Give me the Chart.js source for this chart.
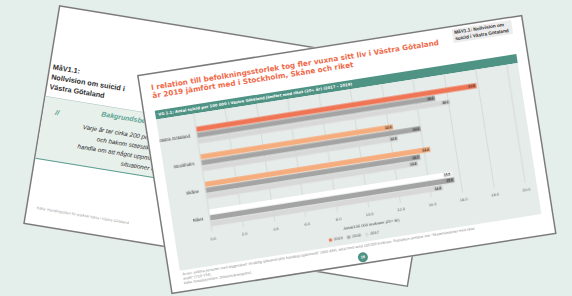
<!DOCTYPE html>
<html><head><meta charset="utf-8">
<script src="https://cdn.jsdelivr.net/npm/chart.js@4"></script>
<style>
html,body{margin:0;padding:0;width:572px;height:296px;overflow:hidden;background:#e4eeea;font-family:"Liberation Sans",Arial,sans-serif;}
.card{position:absolute;box-sizing:border-box;width:780px;height:444px;background:#fff;border:3px solid #7b7b7b;transform-origin:0 0;overflow:hidden;}
#back{left:59px;top:5px;transform:rotate(9.3deg) scale(0.5);}
#front{left:137px;top:75px;transform:rotate(-8.9deg) scale(0.5);}
.abs{position:absolute;white-space:nowrap;}
#title{left:21px;top:18px;font-family:"DejaVu Sans",sans-serif;font-weight:bold;font-size:14.5px;line-height:17px;color:#ef6a4a;}
#hdr{left:633px;top:4px;width:112px;height:26px;background:#ececec;font-weight:bold;font-size:9.5px;line-height:12.5px;color:#333;padding:1px 4px;}
#strip{left:21px;top:73px;width:726px;height:18px;background:#4f9385;color:#fff;font-family:"DejaVu Sans",sans-serif;font-weight:bold;font-size:7.6px;line-height:18px;padding-left:6px;}
#panel{left:21px;top:91px;width:732px;height:306px;background:#e6ecea;}
#foot{left:25px;top:400px;font-size:7.2px;line-height:9px;color:#8a8a8a;}
#pg{left:377px;top:417px;width:20px;height:20px;border-radius:50%;background:#4f9385;color:#fff;font-size:7.5px;font-weight:bold;line-height:20px;text-align:center;}
#bh{left:5px;top:111px;font-weight:bold;font-size:14.5px;line-height:20px;color:#2d2d2d;}
#bbox{left:0;top:181px;width:774px;height:124px;background:#e8f0ec;border-top:1.5px solid #a9c4bd;border-bottom:2px solid #5a9d8f;}
#q{left:24px;top:20px;font-style:italic;font-weight:bold;font-size:14px;color:#5aa393;}
#bg{left:116px;top:8px;font-weight:bold;font-style:italic;font-size:14px;color:#5aa393;}
#body{left:0;top:38px;width:600px;text-align:center;font-style:italic;font-size:12.5px;line-height:20px;color:#2b2b2b;}
#bfoot{left:19px;top:400px;font-size:7.5px;color:#9a9a9a;}
</style></head>
<body>
<div class="card" id="back">
  <div class="abs" id="bh">MåV1.1:<br>Nollvision om suicid i<br>Västra Götaland</div>
  <div class="abs" id="bbox">
    <div class="abs" id="q">//</div>
    <div class="abs" id="bg">Bakgrundsbeskrivning</div>
    <div class="abs" id="body">Varje år tar cirka 200 personer sitt liv i Västra Götaland. Det är fler än i trafiken<br>och bakom statistiken döljer sig ett stort lidande. Ofta kan ett suicid<br>handla om att något uppmärksammats för sent eller att personer hamnat i svåra<br>situationer och att utsatta inte fått rätt stöd i tid.</div>
  </div>
  <div class="abs" id="bfoot">Källa: Handlingsplan för psykisk hälsa i Västra Götaland</div>
</div>
<div class="card" id="front">
  <div class="abs" id="title">I relation till befolkningsstorlek tog fler vuxna sitt liv i Västra Götaland<br>år 2019 jämfört med i Stockholm, Skåne och riket</div>
  <div class="abs" id="hdr">MåV1.1: Nollvision om<br>suicid i Västra Götaland</div>
  <div class="abs" id="strip">VG 1.1: Antal suicid per 100 000 i Västra Götaland jämfört med riket (20+ år) (2017 – 2019)</div>
  <div class="abs" id="panel"><canvas id="c" width="732" height="306"></canvas></div>
  <div class="abs" id="foot">Avser: avlidna personer med diagnoskod "Avsiktlig självdestruktiv handling (självmord)" (X60-X84), delat med antal 100 000 invånare. Statistiken omfattar inte "Skadehändelser med oklar<br>avsikt" (Y10-Y34).<br>Källa: Socialstyrelsen, Dödsorsaksregistret.</div>
  <div class="abs" id="pg">18</div>
</div>
<script>
const categories = ['Västra Götaland', 'Stockholm', 'Skåne', 'Riket'];
const seriesNames = ['2019', '2018', '2017'];
const values2019 = [17.9, 12.3, 14.4, 15.5];
const values2018 = [15.2, 14.0, 13.7, 15.6];
const values2017 = [16.1, 12.5, 13.5, 14.8];
const axisTitle = 'Antal/100 000 invånare (20+ år)';

const colors2019 = ['#ef7555', '#f6ad7e', '#f6ad7e', '#ffffff'];
const FONT = '"Liberation Sans", Arial, sans-serif';

const valueLabels = {
  id: 'valueLabels',
  afterDatasetsDraw(chart) {
    const ctx = chart.ctx;
    ctx.save();
    ctx.font = 'bold 6.5px ' + FONT;
    ctx.textAlign = 'right';
    ctx.textBaseline = 'middle';
    chart.data.datasets.forEach((ds, i) => {
      chart.getDatasetMeta(i).data.forEach((bar, j) => {
        const txt = ds.data[j].toFixed(1);
        const w = ctx.measureText(txt).width + 4;
        ctx.fillStyle = 'rgba(0,0,0,0.08)';
        ctx.fillRect(bar.x - w - 1, bar.y - 4, w, 8);
        ctx.fillStyle = '#333';
        ctx.fillText(txt, bar.x - 3, bar.y + 0.5);
      });
    });
    ctx.restore();
  }
};
const gridExt = {
  id: 'gridExt',
  beforeDatasetsDraw(chart) {
    const x = chart.scales.x, ctx = chart.ctx;
    ctx.save();
    ctx.strokeStyle = '#cfd5d2';
    ctx.lineWidth = 1.5;
    x.ticks.forEach(t => {
      const px = x.getPixelForValue(t.value);
      ctx.beginPath(); ctx.moveTo(px, 0); ctx.lineTo(px, chart.chartArea.top); ctx.stroke();
    });
    ctx.restore();
  }
};

new Chart(document.getElementById('c'), {
  type: 'bar',
  data: {
    labels: categories,
    datasets: [
      { label: seriesNames[0], data: values2019, backgroundColor: c => c.type === 'data' ? colors2019[c.dataIndex] : colors2019[0] },
      { label: seriesNames[1], data: values2018, backgroundColor: '#a4a4a4' },
      { label: seriesNames[2], data: values2017, backgroundColor: '#d8d8d8' }
    ]
  },
  options: {
    indexAxis: 'y', responsive: false, animation: false, devicePixelRatio: 1,
    categoryPercentage: 0.65, barPercentage: 0.85,
    layout: { padding: { top: 16, right: 22, left: 0, bottom: 0 } },
    scales: {
      x: {
        min: 0, max: 20,
        ticks: { stepSize: 2, callback: v => Number(v).toFixed(1), font: { size: 8, family: FONT }, color: '#555', padding: 10 },
        grid: { color: '#cfd5d2', lineWidth: 1.5, drawTicks: false },
        border: { display: false },
        title: { display: true, text: axisTitle, font: { size: 8, family: FONT }, color: '#444', padding: { top: 1, bottom: 0 } },
        afterFit(s) { s.height = 40; }
      },
      y: {
        ticks: { font: { size: 9, family: FONT }, color: '#333', padding: 6 },
        grid: { display: false },
        border: { display: false },
        afterFit(s) { s.width = 76; }
      }
    },
    plugins: {
      legend: { position: 'bottom', labels: { boxWidth: 6, boxHeight: 6, font: { size: 8, family: FONT }, color: '#444', padding: 9 } },
      tooltip: { enabled: false }
    }
  },
  plugins: [valueLabels, gridExt]
});
</script>
</body></html>
